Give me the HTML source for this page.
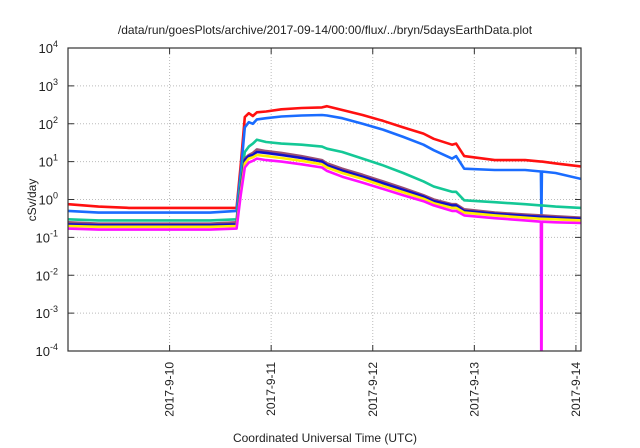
<!DOCTYPE html>
<html><head><meta charset="utf-8"><style>
html,body{margin:0;padding:0;background:#fff;}
svg{display:block;font-family:"Liberation Sans",sans-serif;}
</style></head><body>
<svg id="chart" width="640" height="448" xmlns="http://www.w3.org/2000/svg">
<text x="325" y="34" font-size="12" text-anchor="middle" fill="#222">/data/run/goesPlots/archive/2017-09-14/00:00/flux/../bryn/5daysEarthData.plot</text>
<text transform="translate(36,200) rotate(-90)" font-size="12" text-anchor="middle" fill="#222">cSv/day</text>
<text x="325" y="442" font-size="12" text-anchor="middle" fill="#222">Coordinated Universal Time (UTC)</text>
<g id="grid"></g><g id="series"></g><g id="axes"></g>
</svg>
<script>
const xTickLabels=["2017-9-10","2017-9-11","2017-9-12","2017-9-13","2017-9-14"];
const xTickDays=[1,2,3,4,5];
const yTickExps=[-4,-3,-2,-1,0,1,2,3,4];
const times=[0,0.3,0.6,1.0,1.4,1.66,1.70,1.74,1.78,1.82,1.86,1.95,2.1,2.3,2.5,2.55,2.7,2.9,3.1,3.3,3.5,3.6,3.78,3.82,3.9,4.2,4.5,4.655,4.66,4.665,4.8,5.05];
const red=[0.75,0.65,0.6,0.6,0.6,0.6,8,150,190,160,200,210,240,260,270,290,230,170,120,80,55,40,28,30,14,11,11,10,10,10,9,7.5];
const blue=[0.5,0.45,0.45,0.45,0.45,0.5,5,80,110,100,130,140,155,165,170,165,140,100,70,45,28,20,12,14,6.5,6,6,5.5,0.35,5.5,5,3.5];
const green=[0.3,0.28,0.28,0.28,0.28,0.3,3,18,25,30,38,33,30,28,25,22,18,12,8,5,3,2.2,1.6,1.6,0.95,0.85,0.75,0.7,0.7,0.7,0.65,0.6];
const purple=[0.25,0.23,0.23,0.23,0.23,0.25,2,12,15,17,21,19,17,14,11,9,6.5,4.5,3,2,1.3,1.0,0.75,0.75,0.55,0.45,0.4,0.38,0.38,0.38,0.36,0.33];
const darkblue=[0.22,0.21,0.21,0.21,0.21,0.22,1.8,11,14,15,18,17,15,12.5,10,8,5.8,4,2.7,1.8,1.2,0.9,0.7,0.7,0.5,0.42,0.37,0.35,0.35,0.35,0.33,0.31];
const yellow=[0.2,0.19,0.19,0.19,0.19,0.2,1.5,9,12,13,15,14,12.5,10.5,8.5,7,5,3.5,2.3,1.55,1.05,0.8,0.6,0.6,0.45,0.38,0.33,0.31,0.31,0.31,0.3,0.28];
const magenta=[0.17,0.16,0.16,0.16,0.16,0.17,1.3,7,9.5,10.5,12,11,10,8.5,7,5.7,4,2.8,1.9,1.3,0.9,0.7,0.5,0.5,0.38,0.32,0.28,0.26,0.000001,0.26,0.25,0.24];

const L=68,R=581,T=48,B=351,D0=0,D1=5.05;
const NS="http://www.w3.org/2000/svg";
function xs(d){return L+(d-D0)/(D1-D0)*(R-L);}
function ys(v){const e=Math.log10(v);return B-(e+4)/8*(B-T);}
function mk(tag,attrs,parent){const el=document.createElementNS(NS,tag);for(const k in attrs)el.setAttribute(k,attrs[k]);parent.appendChild(el);return el;}
const grid=document.getElementById('grid'),axes=document.getElementById('axes'),ser=document.getElementById('series');
yTickExps.forEach(e=>{
  const y=ys(Math.pow(10,e));
  if(e>-4&&e<4){const g=mk('line',{x1:L,x2:R,y1:y,y2:y,stroke:'#bbb','stroke-dasharray':'1,2','stroke-width':1},grid);
  
  }
  mk('line',{x1:L,x2:L+6,y1:y,y2:y,stroke:'#333'},axes);
  mk('line',{x1:R-6,x2:R,y1:y,y2:y,stroke:'#333'},axes);
  const t=mk('text',{x:58,y:y+5,'font-size':13,'text-anchor':'end',fill:'#222'},axes);
  
  
  t.textContent='10';
  const s=mk('tspan',{dy:-6,'font-size':9},t);s.textContent=String(e);
});
xTickDays.forEach((d,i)=>{
  const x=xs(d);
  const g=mk('line',{x1:x,x2:x,y1:T,y2:B,stroke:'#bbb','stroke-dasharray':'1,2'},grid);
  
  
  mk('line',{x1:x,x2:x,y1:B-6,y2:B,stroke:'#333'},axes);
  mk('line',{x1:x,x2:x,y1:T,y2:T+6,stroke:'#333'},axes);
  const t=mk('text',{transform:`translate(${x+4},362) rotate(-90)`,'font-size':12,'text-anchor':'end',fill:'#222'},axes);
  
  
  t.textContent=xTickLabels[i];
});
const fr=mk('rect',{x:L,y:T,width:R-L,height:B-T,fill:'none',stroke:'#333','stroke-width':1.2},axes);


const cp=mk('clipPath',{id:'clip'},document.getElementById('chart'));
mk('rect',{x:L,y:T,width:R-L,height:B-T},cp);
ser.setAttribute('clip-path','url(#clip)');
const seriesList=[["red",red,"#ff1010"],["blue",blue,"#1a6cff"],["green",green,"#14c896"],["purple",purple,"#9a4f74"],["darkblue",darkblue,"#1010cc"],["yellow",yellow,"#ffee00"],["magenta",magenta,"#ff10ff"]];
seriesList.forEach(([nm,vals,col])=>{
  const pts=times.map((t,i)=>xs(t).toFixed(1)+','+ys(vals[i]).toFixed(1)).join(' ');
  const p=mk('polyline',{points:pts,fill:'none',stroke:col,'stroke-width':2.6,'stroke-linejoin':'round'},ser);
  
  
});
</script>
</body></html>
